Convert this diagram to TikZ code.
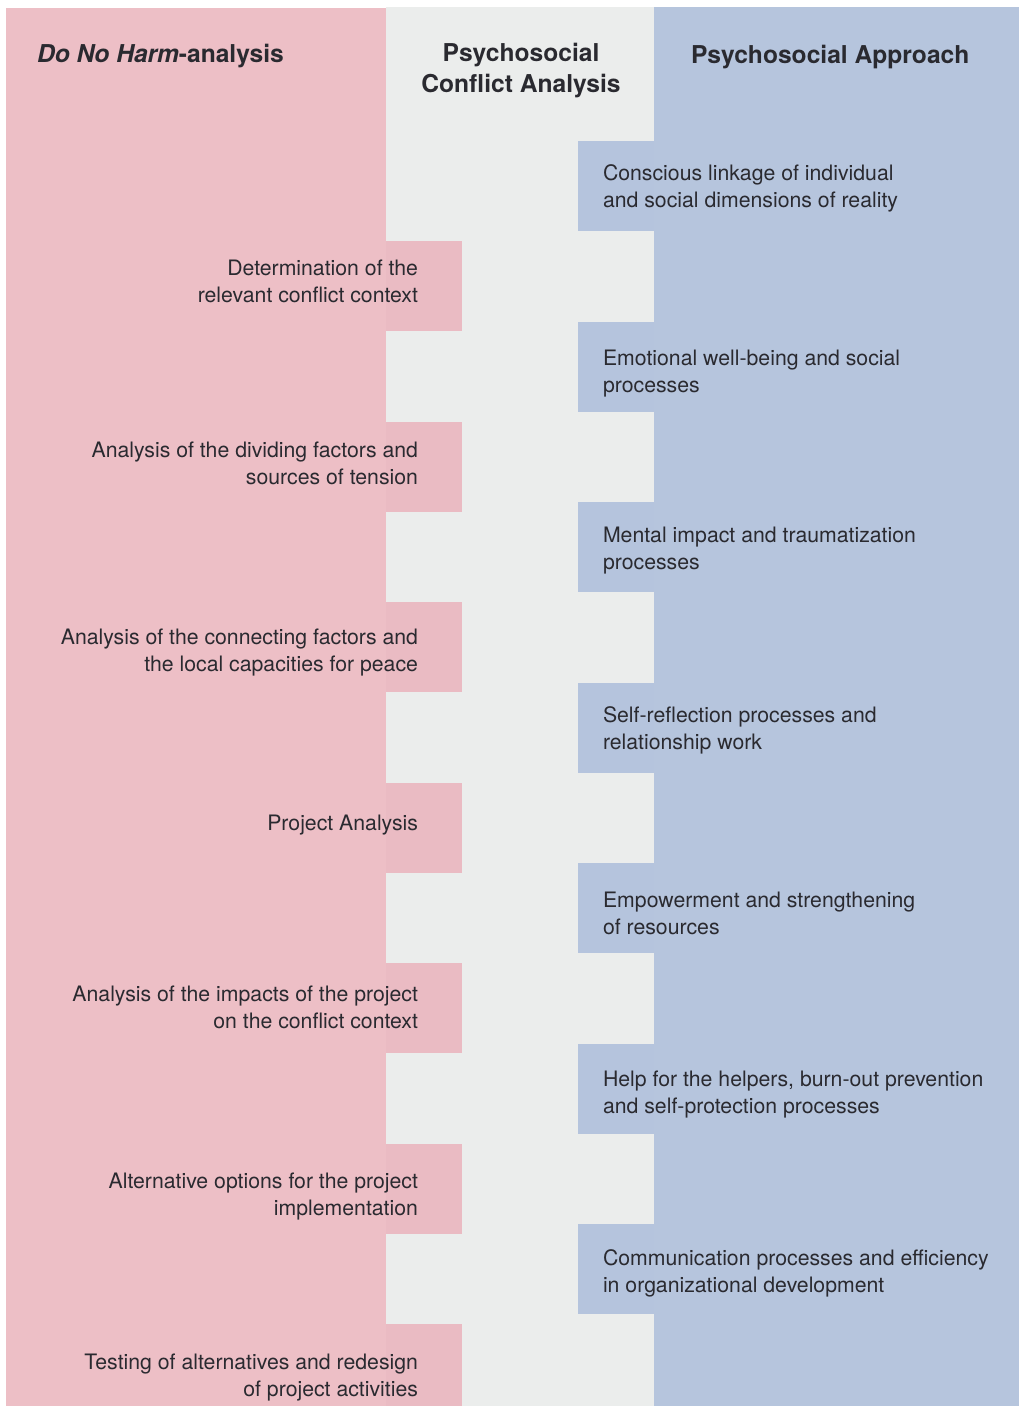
\documentclass[tikz,border=0pt]{standalone}
\usepackage{fontspec}
\setmainfont{TeX Gyre Heros}
\newfontfamily\hdfont{TeX Gyre Heros}
\definecolor{pinkcol}{RGB}{237,191,198}
\definecolor{pinktab}{RGB}{234,187,195}
\definecolor{graycol}{RGB}{235,237,236}
\definecolor{bluecol}{RGB}{182,197,221}
\definecolor{bluetab}{RGB}{181,196,221}
\definecolor{txt}{RGB}{42,42,48}
\newcommand\lstrut{\rule[-6pt]{0pt}{27pt}}
\newcommand\twol[2]{\lstrut #1\\\lstrut #2}
\tikzset{
  body/.style={inner sep=0pt, outer sep=0pt, text=txt, font=\fontsize{21.25}{27}\selectfont},
  lefttxt/.style={body, anchor=east, align=right},
  righttxt/.style={body, anchor=west, align=left},
  head/.style={inner sep=0pt, outer sep=0pt, text=txt, font=\hdfont\bfseries\fontsize{24.6}{31}\selectfont},
}
\begin{document}
\begin{tikzpicture}[x=1pt,y=-1pt]
\useasboundingbox (0,0) rectangle (1020,1406);
\fill[white] (0,0) rectangle (1020,1406);
% columns
\fill[pinkcol] (6,8) rectangle (386,1406);
\fill[graycol] (386,7) rectangle (654,1406);
\fill[bluecol] (654,7) rectangle (1019,1406);
% tabs
\foreach \k in {0,...,6}{
  \fill[pinktab] (386,241+180.5*\k) rectangle (462,{min(331+180.5*\k,1406)});
  \fill[bluetab] (578,141+180.5*\k) rectangle (654,231+180.5*\k);
}
% headers
\node[head, anchor=base west] (h1) at (37,62.5) {\textit{Do No Harm}-analysis};
\node[head, anchor=base] (h2a) at (521,61) {Psychosocial};
\node[head, anchor=base] (h2b) at (521,92) {Conflict Analysis};
\node[head, anchor=base west] (h3) at (691,63) {Psychosocial Approach};
% left texts (center = first baseline + 6 for two lines)
\node[lefttxt] (l1) at (418,281) {\twol{Determination of the}{relevant conflict context}};
\node[lefttxt] (l2) at (418,463) {\twol{Analysis of the dividing factors and}{sources of tension}};
\node[lefttxt] (l3) at (418,650) {\twol{Analysis of the connecting factors and}{the local capacities for peace}};
\node[lefttxt] (l4) at (418,822.5) {\lstrut Project Analysis};
\node[lefttxt] (l5) at (418,1007) {\twol{Analysis of the impacts of the project}{on the conflict context}};
\node[lefttxt] (l6) at (418,1194) {\twol{Alternative options for the project}{implementation}};
\node[lefttxt] (l7) at (418,1375) {\twol{Testing of alternatives and redesign}{of project activities}};
% right texts
\node[righttxt] (r1) at (603,186) {\twol{Conscious linkage of individual}{and social dimensions of reality}};
\node[righttxt] (r2) at (603,371) {\twol{Emotional well-being and social}{processes}};
\node[righttxt] (r3) at (603,548) {\twol{Mental impact and traumatization}{processes}};
\node[righttxt] (r4) at (603,728) {\twol{Self-reflection processes and}{relationship work}};
\node[righttxt] (r5) at (603,913) {\twol{Empowerment and strengthening}{of resources}};
\node[righttxt] (r6) at (603,1092) {\twol{Help for the helpers, burn-out prevention}{and self-protection processes}};
\node[righttxt] (r7) at (603,1271) {\twol{Communication processes and efficiency}{in organizational development}};
\end{tikzpicture}
\end{document}
